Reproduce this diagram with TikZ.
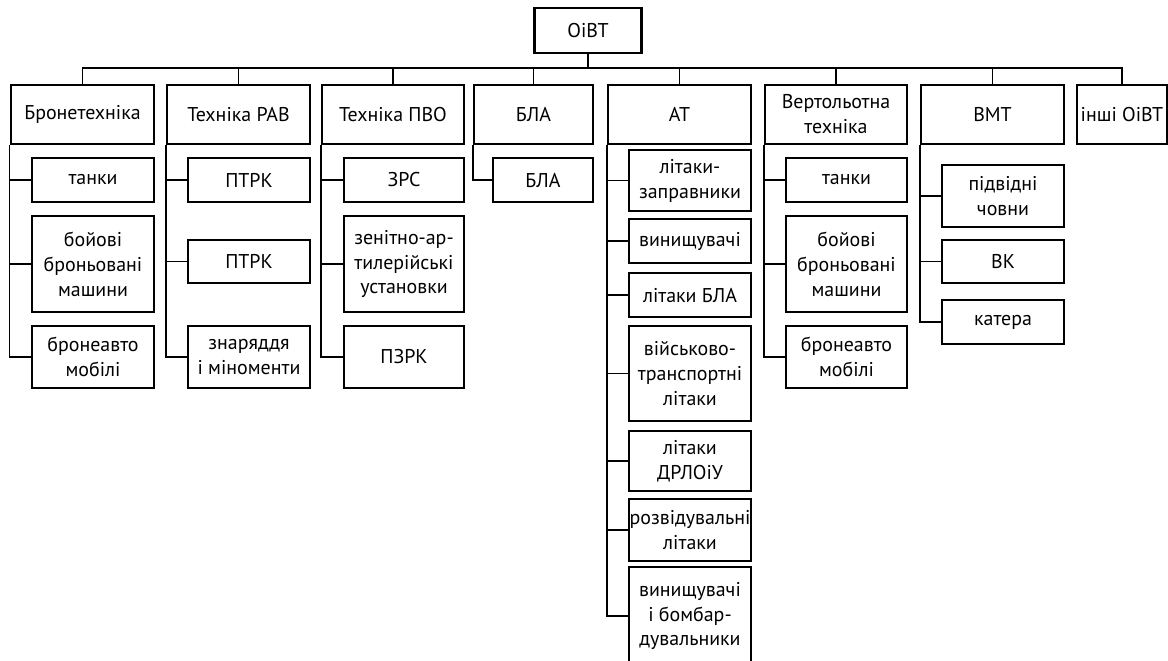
\documentclass[tikz,border=0pt]{standalone}
\usepackage{fontspec}
\setmainfont{PT Sans}
\usetikzlibrary{positioning,calc}

\begin{document}
\begin{tikzpicture}[x=1bp,y=-1bp,
    box/.style={draw, line width=2.8bp, inner sep=0pt, align=center,
      font=\fontsize{20}{25}\selectfont},
    topbox/.style={box, minimum height=59bp},
    link/.style={line width=1.8bp}]
  \useasboundingbox (0,0) rectangle (1168,661);

  % root and first level
  \node[box, minimum width=107bp, minimum height=45bp] (root) at (588,30.5) {ОіВТ};
  \coordinate (bus) at (588,68);

  \node[topbox, minimum width=143bp] (bron) at (82.5,114.5) {Бронетехніка};
  \node[topbox, minimum width=143bp] (rav) at (238.5,114.5) {Техніка РАВ};
  \node[topbox, minimum width=142bp] (pvo) at (393,114.5) {Техніка ПВО};
  \node[topbox, minimum width=119bp] (bla) at (533.5,114.5) {БЛА};
  \node[topbox, minimum width=143bp] (at) at (679.5,114.5) {АТ};
  \node[topbox, minimum width=142bp] (vert) at (836,114.5) {Вертольотна\\техніка};
  \node[topbox, minimum width=143bp] (vmt) at (992.5,114.5) {ВМТ};
  \node[topbox, minimum width=90bp] (inshi) at (1122,114.5) {інші ОіВТ};

  % Бронетехніка
  \node[box, minimum width=122bp, minimum height=44bp] (bron1) at (93,180) {танки};
  \node[box, minimum width=122bp, minimum height=96bp] (bron2) at (93,264) {бойові\\броньовані\\машини};
  \node[box, minimum width=122bp, minimum height=62bp] (bron3) at (93,357) {бронеавто\\мобілі};

  % Техніка РАВ
  \node[box, minimum width=122bp, minimum height=44bp] (rav1) at (249,180) {ПТРК};
  \node[box, minimum width=122bp, minimum height=43bp] (rav2) at (249,261.5) {ПТРК};
  \node[box, minimum width=122bp, minimum height=62bp] (rav3) at (249,357) {знаряддя\\і міноменти};

  % Техніка ПВО
  \node[box, minimum width=120bp, minimum height=44bp] (pvo1) at (404,180) {ЗРС};
  \node[box, minimum width=120bp, minimum height=96bp] (pvo2) at (404,264) {зенітно-ар-\\тилерійські\\установки};
  \node[box, minimum width=120bp, minimum height=62bp] (pvo3) at (404,357) {ПЗРК};

  % БЛА
  \node[box, minimum width=100bp, minimum height=44bp] (bla1) at (543,180) {БЛА};

  % АТ
  \node[box, minimum width=122bp, minimum height=61bp] (at1) at (690,180.5) {літаки-\\заправники};
  \node[box, minimum width=122bp, minimum height=44bp] (at2) at (690,241) {винищувачі};
  \node[box, minimum width=122bp, minimum height=44bp] (at3) at (690,295) {літаки БЛА};
  \node[box, minimum width=122bp, minimum height=95bp] (at4) at (690,373.5) {військово-\\транспортні\\літаки};
  \node[box, minimum width=122bp, minimum height=60bp] (at5) at (690,461) {літаки\\ДРЛОіУ};
  \node[box, minimum width=122bp, minimum height=62bp] (at6) at (690,530) {розвідувальні\\літаки};
  \node[box, minimum width=122bp, minimum height=98bp] (at7) at (690,616) {винищувачі\\і бомбар-\\дувальники};

  % Вертольотна техніка
  \node[box, minimum width=121bp, minimum height=44bp] (vert1) at (846.5,180) {танки};
  \node[box, minimum width=121bp, minimum height=96bp] (vert2) at (846.5,264) {бойові\\броньовані\\машини};
  \node[box, minimum width=121bp, minimum height=62bp] (vert3) at (846.5,357) {бронеавто\\мобілі};

  % ВМТ
  \node[box, minimum width=122bp, minimum height=62bp] (vmt1) at (1003,196) {підвідні\\човни};
  \node[box, minimum width=122bp, minimum height=43bp] (vmt2) at (1003,261.5) {ВК};
  \node[box, minimum width=122bp, minimum height=44bp] (vmt3) at (1003,322) {катера};

  % connectors
  \draw[link] (root.south) -- (bus);
  \foreach \n in {bron,rav,pvo,bla,at,vert,vmt,inshi}
    \draw[link] (\n.north) |- (bus);
  \foreach \p/\c in {bron/bron1,bron/bron2,bron/bron3,
                     rav/rav1,rav/rav2,rav/rav3,
                     pvo/pvo1,pvo/pvo2,pvo/pvo3,
                     bla/bla1,
                     at/at1,at/at2,at/at3,at/at4,at/at5,at/at6,at/at7,
                     vert/vert1,vert/vert2,vert/vert3,
                     vmt/vmt1,vmt/vmt2,vmt/vmt3}
    \draw[link] (\p.south west) |- (\c.west);
\end{tikzpicture}
\end{document}
